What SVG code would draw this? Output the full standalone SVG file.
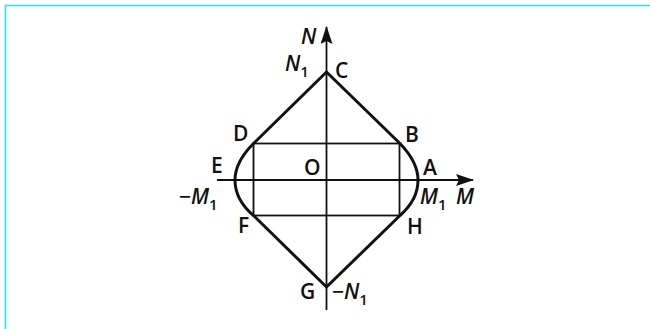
<svg xmlns="http://www.w3.org/2000/svg" width="650" height="329" viewBox="0 0 650 329">
<style>
.t{font-family:"Open Sans","Liberation Sans",sans-serif;font-size:21px;font-weight:600;fill:#111}
.i{font-style:italic}
.s{font-size:15px;font-style:normal}
.thin{stroke:#111;stroke-width:1.8;fill:none}
.thick{stroke:#111;stroke-width:3;fill:none;stroke-linejoin:round}
</style>
<defs>
<marker id="ah" markerWidth="18" markerHeight="12" refX="17" refY="6" orient="auto" markerUnits="userSpaceOnUse" viewBox="0 0 18 12">
<path d="M0,0 L18,6 L0,12 L3,6 Z" fill="#111"/>
</marker>
</defs>
<rect width="650" height="329" fill="#fff"/>
<path d="M5.5,329 V5.5 H650" stroke="#22e8ee" stroke-width="1.5" fill="none"/>
<g id="connectors">
<line class="thin" x1="326.5" y1="310" x2="326.5" y2="27" marker-end="url(#ah)"/>
<line class="thin" x1="217" y1="180" x2="473" y2="180" marker-end="url(#ah)"/>
<rect class="thin" x="253.5" y="143.5" width="146" height="72"/>
<path class="thick" d="M326.5,72 L400,143.5 C412,156 418,168 418,180 C418,193 412,205 400,215.5 L326.5,287 L253.5,215.5 C241,205 235,193 235,180 C235,168 241,156 253.5,143.5 Z"/>
</g>
<g id="labels">
<text class="t i" x="301" y="44">N</text>
<g id="C"><text class="t i" x="285" y="71">N<tspan class="s" dy="6">1</tspan></text><text class="t" x="335" y="78">C</text></g>
<g id="D"><text class="t" x="233" y="141">D</text></g>
<g id="B"><text class="t" x="405" y="142">B</text></g>
<g id="E"><text class="t" x="211" y="173">E</text></g>
<g id="O"><text class="t" x="304" y="175">O</text></g>
<g id="A"><text class="t" x="423" y="175">A</text></g>
<text class="t" x="179" y="204">−<tspan class="i">M</tspan><tspan class="s" dy="6">1</tspan></text>
<text class="t i" x="420" y="204">M<tspan class="s" dy="6">1</tspan></text>
<text class="t i" x="456" y="204">M</text>
<g id="F"><text class="t" x="238" y="233">F</text></g>
<g id="H"><text class="t" x="407" y="234">H</text></g>
<g id="G"><text class="t" x="300" y="299">G</text></g>
<text class="t" x="332" y="299">−<tspan class="i">N</tspan><tspan class="s" dy="6">1</tspan></text>
</g>
</svg>
